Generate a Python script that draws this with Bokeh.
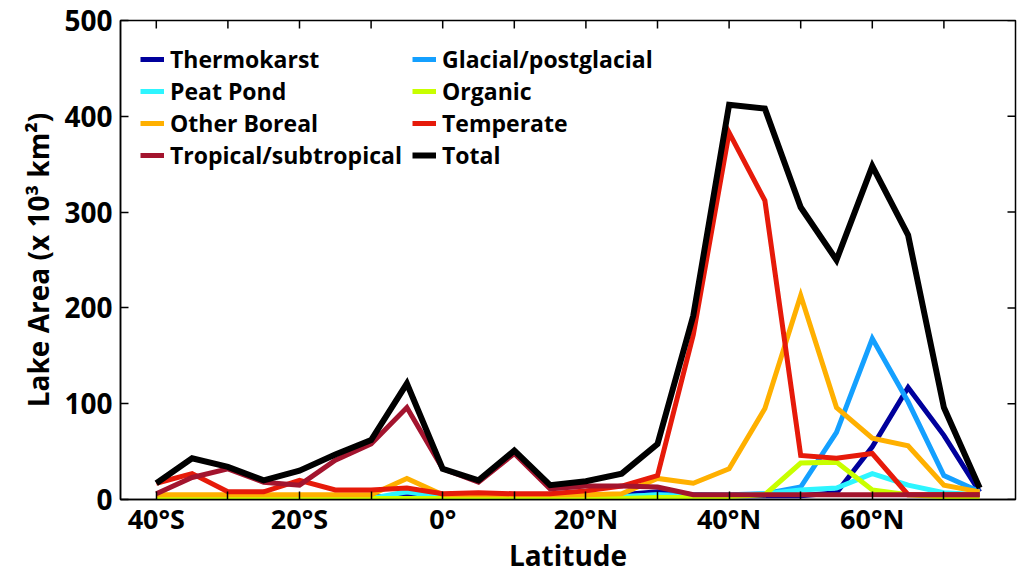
import math
from bokeh.plotting import figure
from bokeh.models import Range1d, FixedTicker, Legend, LegendItem
from bokeh.embed import file_html
from bokeh.resources import INLINE

# Latitude bins (degrees, negative = south)
lat = [-40, -35, -30, -25, -20, -15, -10, -5, 0, 5, 10, 15, 20, 25, 30, 35, 40, 45, 50, 55, 60, 65, 70, 75]

# Lake area (x 10^3 km^2)
thermokarst = [3, 3, 3, 3, 3, 3, 3, 3, 3, 3, 3, 3, 3, 5, 8, 5, 4, 4, 4, 7, 55, 117, 67, 8]
glacial = [1, 1, 1, 1, 1, 1, 1, 1, 1, 1, 1, 1, 2, 3, 5, 5, 5, 6, 13, 70, 168, 102, 25, 8]
peat_pond = [1, 1, 1, 1, 1, 1, 1, 8, 2, 1, 1, 1, 2, 3, 5, 2, 4, 6, 10, 12, 27, 15, 7, 5]
organic = [1, 1, 1, 1, 1, 1, 1, 1, 1, 1, 1, 1, 1, 1, 2, 2, 3, 5, 38, 39, 10, 5, 3, 3]
other_boreal = [5, 5, 5, 5, 5, 5, 5, 22, 5, 5, 5, 5, 5, 6, 22, 17, 32, 95, 213, 96, 64, 56, 15, 8]
temperate = [17, 27, 8, 8, 20, 10, 10, 12, 6, 7, 6, 6, 9, 14, 25, 172, 383, 312, 46, 43, 48, 5, 5, 5]
tropical = [6, 23, 32, 18, 15, 41, 58, 96, 32, 18, 48, 11, 14, 14, 13, 5, 5, 5, 5, 5, 5, 5, 5, 5]
total = [17, 43, 34, 20, 30, 47, 62, 121, 32, 20, 51, 15, 19, 27, 58, 192, 412, 408, 305, 250, 348, 276, 96, 12]

series_names = ["Thermokarst", "Glacial/postglacial", "Peat Pond", "Organic",
                "Other Boreal", "Temperate", "Tropical/subtropical", "Total"]
series_values = [thermokarst, glacial, peat_pond, organic, other_boreal, temperate, tropical, total]
series_colors = ["#00009C", "#14A0FF", "#2EF5FF", "#C8FF00", "#FFB000", "#E61A0A", "#A3142E", "#000000"]

x_major = [-40, -20, 0, 20, 40, 60]
x_minor = [-30, -10, 10, 30, 50, 70]
x_labels = ["40°S", "20°S", "0°", "20°N", "40°N", "60°N"]
y_ticks = [0, 100, 200, 300, 400, 500]
x_min, x_max = -45, 80
y_min, y_max = 0, 500

FONT = "Open Sans"

p = figure(width=1020, height=577, x_range=Range1d(x_min, x_max), y_range=Range1d(y_min, y_max),
           output_backend="svg", toolbar_location=None,
           min_border_left=120, min_border_right=5, min_border_top=20, min_border_bottom=78,
           x_axis_label="Latitude", y_axis_label="Lake Area (x 10³ km²)")
p.grid.visible = False
p.outline_line_color = "black"
p.outline_line_width = 1.5
p.background_fill_color = "white"
p.border_fill_color = "white"

renderers = {}
for name, vals, col in zip(series_names, series_values, series_colors):
    w = 6 if name == "Total" else 5
    r = p.line(lat, vals, line_color=col, line_width=w, line_join="miter")
    renderers[name] = r

# mirrored tick marks on the top and right frame edges (clipped to the frame)
top_ticks = x_major + x_minor
p.scatter(top_ticks, [y_max] * len(top_ticks), marker="dash", size=16, angle=math.pi / 2,
          line_color="black", line_width=1.5)
p.scatter([x_max] * len(y_ticks), y_ticks, marker="dash", size=16,
          line_color="black", line_width=1.5)

def style_axis(ax):
    ax.major_tick_in = 8
    ax.major_tick_out = 0
    ax.minor_tick_in = 8
    ax.minor_tick_out = 0
    ax.axis_line_color = "black"
    ax.axis_line_width = 1.5
    ax.major_tick_line_width = 1.5
    ax.minor_tick_line_width = 1.5
    ax.major_tick_line_color = "black"
    ax.minor_tick_line_color = "black"

xa = p.xaxis[0]
xa.ticker = FixedTicker(ticks=x_major, minor_ticks=x_minor)
xa.major_label_overrides = {v: s for v, s in zip(x_major, x_labels)}
style_axis(xa)
xa.major_label_text_font = FONT
xa.major_label_text_font_style = "bold"
xa.major_label_text_font_size = "27px"
xa.major_label_text_color = "black"
xa.major_label_standoff = 0
xa.axis_label_text_font = FONT
xa.axis_label_text_font_style = "bold"
xa.axis_label_text_font_size = "28px"
xa.axis_label_text_color = "black"
xa.axis_label_standoff = -4

ya = p.yaxis[0]
ya.ticker = FixedTicker(ticks=y_ticks)
style_axis(ya)
ya.minor_tick_in = 0
ya.major_label_text_font = FONT
ya.major_label_text_font_style = "bold"
ya.major_label_text_font_size = "28px"
ya.major_label_text_color = "black"
ya.major_label_standoff = 8
ya.axis_label_text_font = FONT
ya.axis_label_text_font_style = "bold"
ya.axis_label_text_font_size = "28px"
ya.axis_label_text_color = "black"
ya.axis_label_standoff = 4

def make_legend(names, loc):
    items = [LegendItem(label=n, renderers=[renderers[n]]) for n in names]
    lg = Legend(items=items, location=loc, orientation="vertical")
    lg.border_line_color = None
    lg.background_fill_alpha = 0
    lg.padding = 0
    lg.margin = 0
    lg.spacing = 0
    lg.glyph_width = 24
    lg.glyph_height = 32
    lg.label_height = 32
    lg.label_standoff = 6
    lg.label_text_font = FONT
    lg.label_text_font_style = "bold"
    lg.label_text_font_size = "23px"
    lg.label_text_color = "black"
    return lg

p.add_layout(make_legend(series_names[0::2], (20, 328)), "center")
p.add_layout(make_legend(series_names[1::2], (292, 328)), "center")

open("out.html", "w").write(file_html(p, INLINE))
